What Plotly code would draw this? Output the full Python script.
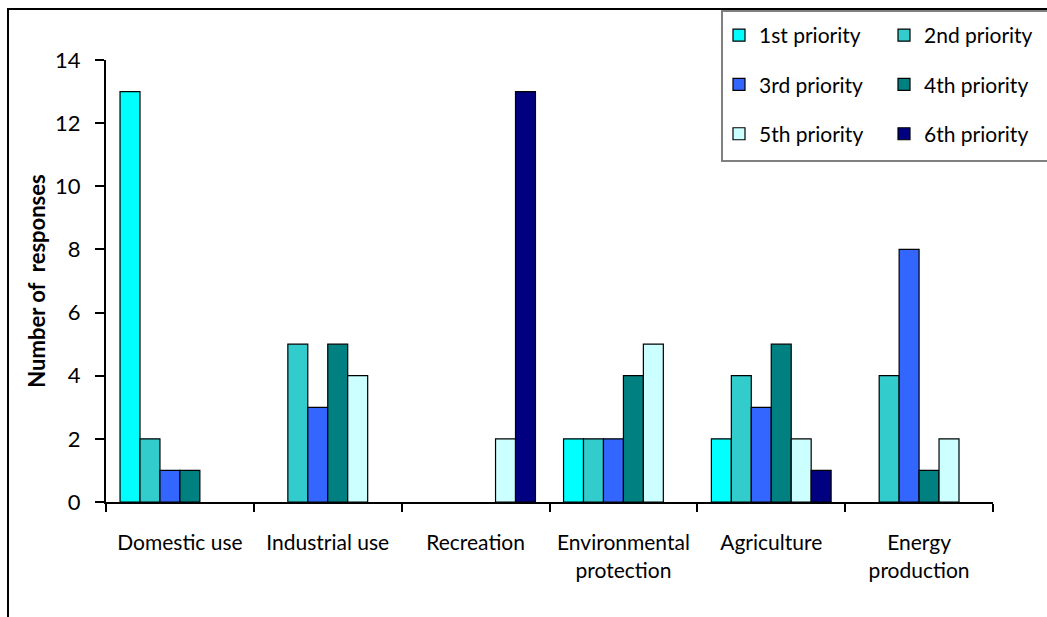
import plotly.graph_objects as go

categories = ["Domestic use", "Industrial use", "Recreation",
              "Environmental<br>protection", "Agriculture", "Energy<br>production"]

series_names = ["1st priority", "2nd priority", "3rd priority",
                "4th priority", "5th priority", "6th priority"]

first_priority = [13, 0, 0, 2, 2, 0]
second_priority = [2, 5, 0, 2, 4, 4]
third_priority = [1, 3, 0, 2, 3, 8]
fourth_priority = [1, 5, 0, 4, 5, 1]
fifth_priority = [0, 4, 2, 5, 2, 2]
sixth_priority = [0, 0, 13, 0, 1, 0]

series_values = [first_priority, second_priority, third_priority,
                 fourth_priority, fifth_priority, sixth_priority]

colors = ["#00FFFF", "#33CCCC", "#3366FF", "#008080", "#CCFFFF", "#000080"]

y_ticks = [0, 2, 4, 6, 8, 10, 12, 14]

FONT = "Lato, 'Noto Sans', sans-serif"

fig = go.Figure()
for i, (name, vals, col) in enumerate(zip(series_names, series_values, colors)):
    # zero counts are left out so no empty bar outline is drawn
    yv = [v if v != 0 else None for v in vals]
    fig.add_trace(go.Bar(
        x=categories, y=yv, name=name,
        marker=dict(color=col, line=dict(color="black", width=1.2)),
        legend="legend" if i % 2 == 0 else "legend2",
        legendgroup=name,
    ))

W, H = 1047, 617
ml, mr, mt, mb = 106, 54, 60, 115
pw, ph = W - ml - mr, H - mt - mb


def px_x(p):
    return (p - ml) / pw


def px_y(p):
    return (H - mb - p) / ph


legend_common = dict(
    orientation="v", xanchor="left", yanchor="top",
    xref="container", yref="container",
    bgcolor="rgba(0,0,0,0)", borderwidth=0,
    font=dict(family=FONT, size=21, color="black"),
    tracegroupgap=19, itemclick=False,
)

fig.update_layout(
    width=W, height=H,
    margin=dict(l=ml, r=mr, t=mt, b=mb, autoexpand=False),
    paper_bgcolor="white", plot_bgcolor="white",
    barmode="group", bargap=0.19, bargroupgap=0,
    font=dict(family=FONT, size=21, color="black"),
    showlegend=True,
    legend=dict(x=719 / W, y=1 - 15 / H, **legend_common),
    legend2=dict(x=884 / W, y=1 - 15 / H, **legend_common),
    xaxis=dict(
        type="category", showline=True, linecolor="black", linewidth=2,
        ticks="outside", tickson="boundaries", ticklen=8, tickwidth=2,
        tickcolor="black", showgrid=False, ticklabelstandoff=21,
        tickfont=dict(family=FONT, size=21), automargin=False,
    ),
    yaxis=dict(
        range=[0, 14], tickvals=y_ticks, showline=True, linecolor="black",
        linewidth=2, ticks="outside", ticklen=9, tickwidth=2,
        tickcolor="black", showgrid=False, zeroline=False,
        ticklabelstandoff=10, automargin=False,
        tickfont=dict(family=FONT, size=22),
        title=dict(text="<b>Number of  responses</b>", standoff=3,
                   font=dict(family=FONT, size=22)),
    ),
    shapes=[
        # outer chart frame
        dict(type="rect", xref="paper", yref="paper",
             x0=px_x(8), x1=px_x(1100), y0=px_y(680), y1=px_y(9),
             line=dict(color="black", width=2), fillcolor="rgba(0,0,0,0)",
             layer="above"),
        # legend frame
        dict(type="rect", xref="paper", yref="paper",
             x0=px_x(722), x1=px_x(1080), y0=px_y(161), y1=px_y(11),
             line=dict(color="#808080", width=2), fillcolor="rgba(0,0,0,0)",
             layer="above"),
    ],
)

fig.write_html("out.html")
